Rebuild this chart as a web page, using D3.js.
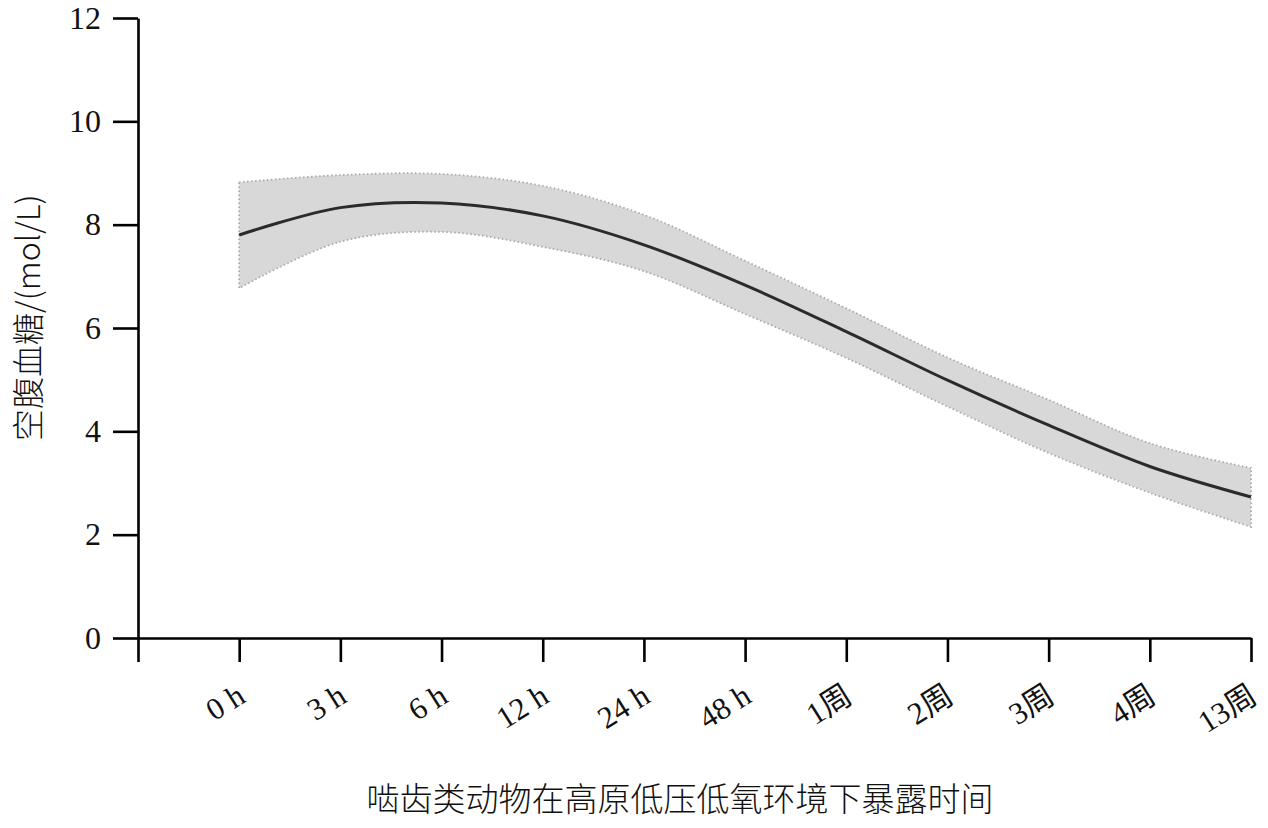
<!DOCTYPE html>
<html>
<head>
<meta charset="utf-8">
<script src="https://cdn.jsdelivr.net/npm/d3@7"></script>
<style>
  html, body { margin: 0; padding: 0; background: #fff; }
  svg { display: block; }
</style>
</head>
<body>
<svg id="chart"></svg>
<script>
// categories (first slot is the axis origin, no label)
const categories = ["", "0 h", "3 h", "6 h", "12 h", "24 h", "48 h", "1周", "2周", "3周", "4周", "13周"];
const meanValues  = [7.80, 8.33, 8.42, 8.17, 7.61, 6.83, 5.93, 4.99, 4.12, 3.32, 2.73];
const upperValues = [8.82, 8.96, 8.98, 8.75, 8.19, 7.30, 6.38, 5.43, 4.61, 3.77, 3.29];
const lowerValues = [6.77, 7.67, 7.86, 7.57, 7.10, 6.27, 5.42, 4.48, 3.58, 2.81, 2.15];
const yTicks = [0, 2, 4, 6, 8, 10, 12];
const yLabel = "空腹血糖/(mol/L)";
const xLabel = "啮齿类动物在高原低压低氧环境下暴露时间";

const width = 1268, height = 828;
const margin = {top: 18, right: 17, bottom: 190, left: 138};

const svg = d3.select("#chart").attr("width", width).attr("height", height);

const x = d3.scalePoint()
    .domain(categories)
    .range([margin.left, width - margin.right]);

const y = d3.scaleLinear()
    .domain([0, 12])
    .range([height - margin.bottom, margin.top]);

const rows = categories.slice(1).map((c, i) => ({
    cat: c, mean: meanValues[i], upper: upperValues[i], lower: lowerValues[i]
}));

// confidence band
const area = d3.area()
    .x(d => x(d.cat))
    .y0(d => y(d.lower))
    .y1(d => y(d.upper))
    .curve(d3.curveCatmullRom.alpha(0.5));

svg.append("path")
    .datum(rows)
    .attr("d", area)
    .attr("fill", "#d8d8d8")
    .attr("stroke", "#aaaaaa")
    .attr("stroke-width", 1.8)
    .attr("stroke-dasharray", "1.5,2.5");

// mean line
const line = d3.line()
    .x(d => x(d.cat))
    .y(d => y(d.mean))
    .curve(d3.curveCatmullRom.alpha(0.5));

svg.append("path")
    .datum(rows)
    .attr("d", line)
    .attr("fill", "none")
    .attr("stroke", "#2b2b2b")
    .attr("stroke-width", 3);

// axes
const xAxis = svg.append("g")
    .attr("transform", `translate(0, ${y(0)})`)
    .call(d3.axisBottom(x).tickSize(24).tickSizeOuter(0).tickFormat(""));

const yAxis = svg.append("g")
    .attr("transform", `translate(${margin.left}, 0)`)
    .call(d3.axisLeft(y).tickValues(yTicks).tickSize(25).tickSizeOuter(0).tickPadding(12));

[xAxis, yAxis].forEach(g => {
    g.select(".domain").attr("stroke", "#000").attr("stroke-width", 2.6);
    g.selectAll(".tick line").attr("stroke", "#000").attr("stroke-width", 2.6);
});

yAxis.selectAll(".tick text")
    .attr("font-family", "'Liberation Serif', 'DejaVu Serif', serif")
    .attr("font-size", 32)
    .attr("fill", "#111");

// rotated category labels
svg.append("g")
    .selectAll("text")
    .data(categories.slice(1))
    .join("text")
    .attr("transform", d => `translate(${x(d) + 8}, ${y(0) + 63}) rotate(-32)`)
    .attr("text-anchor", "end")
    .attr("font-family", "'Liberation Serif', 'Noto Sans CJK SC', serif")
    .attr("font-size", 31)
    .attr("fill", "#111")
    .text(d => d);

// axis titles
svg.append("text")
    .attr("x", 680)
    .attr("y", 811)
    .attr("text-anchor", "middle")
    .attr("font-family", "'Noto Sans CJK SC', sans-serif")
    .attr("font-weight", 300)
    .attr("font-size", 33)
    .attr("fill", "#111")
    .text(xLabel);

svg.append("text")
    .attr("transform", `translate(40, ${y(6.2)}) rotate(-90)`)
    .attr("text-anchor", "middle")
    .attr("font-family", "'Noto Sans CJK SC', sans-serif")
    .attr("font-weight", 300)
    .attr("font-size", 32)
    .attr("fill", "#111")
    .text(yLabel);
</script>
</body>
</html>
